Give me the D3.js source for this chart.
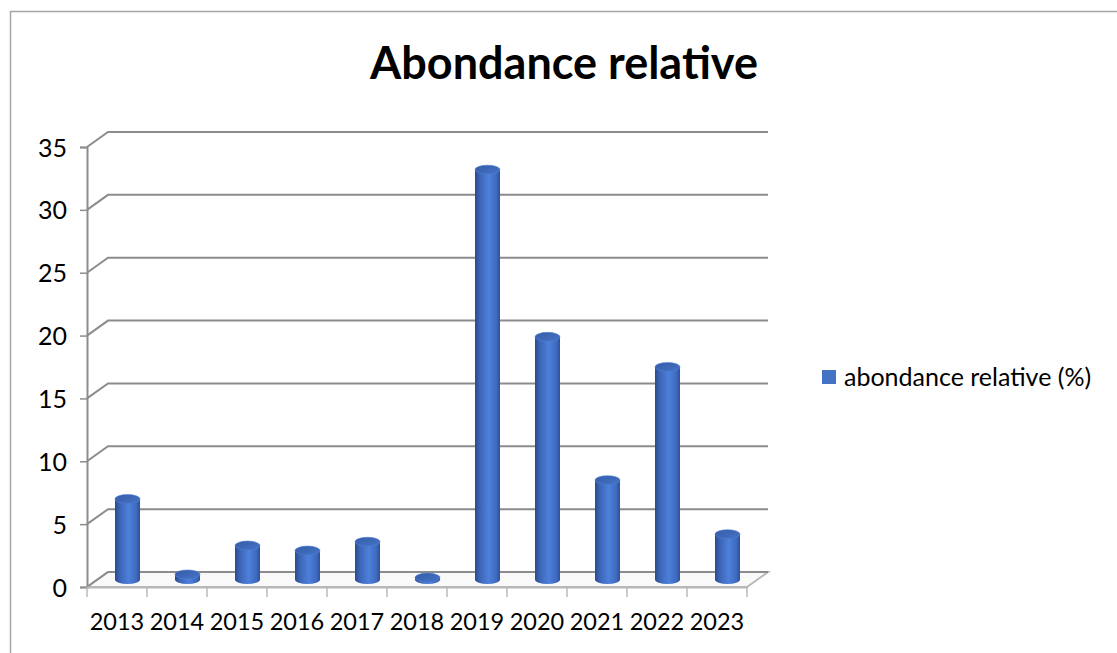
<!DOCTYPE html>
<html>
<head>
<meta charset="utf-8">
<script src="https://cdn.jsdelivr.net/npm/d3@7"></script>
<style>
  body { margin: 0; background: #fff; }
  text { font-family: Lato, "Liberation Sans", sans-serif; fill: #000; }
</style>
</head>
<body>
<div id="chart"></div>
<script>
// data
var years = ["2013","2014","2015","2016","2017","2018","2019","2020","2021","2022","2023"];
var values = [6.4, 0.4, 2.7, 2.3, 3.0, 0.15, 32.6, 19.3, 7.9, 16.9, 3.6];
var yTicks = [0, 5, 10, 15, 20, 25, 30, 35];
var seriesName = "abondance relative (%)";
var title = "Abondance relative";

var W = 1117, H = 653;
var svg = d3.select("#chart").append("svg")
    .attr("width", W)
    .attr("height", H);

// 3d depth offset of the back wall
var depth = {dx: 21, dy: -15};

var x = d3.scaleBand().domain(years).range([87, 747]).padding(0);
var y = d3.scaleLinear().domain([0, 35]).range([587, 147]);

var grid = "#8c8c8c";

// outer chart border (only top and left show in the crop)
svg.append("path")
    .attr("d", "M10.5," + H + " L10.5,11.5 L" + W + ",11.5")
    .attr("fill", "none")
    .attr("stroke", "#a6a6a6")
    .attr("stroke-width", 1.5);

// title
svg.append("text")
    .attr("x", 564)
    .attr("y", 79)
    .attr("text-anchor", "middle")
    .style("font-size", "45px")
    .style("font-weight", "bold")
    .text(title);

// floor
var x0 = x.range()[0], x1 = x.range()[1];
svg.append("path")
    .attr("d", "M" + x0 + "," + y(0) + " L" + (x0 + depth.dx) + "," + (y(0) + depth.dy) +
               " L" + (x1 + depth.dx) + "," + (y(0) + depth.dy) + " L" + x1 + "," + y(0) + "Z")
    .attr("fill", "#f9f9f9")
    .attr("stroke", "#b8b8b8")
    .attr("stroke-width", 2);

// gridlines: diagonal on the side wall then across the back wall
svg.append("g")
  .selectAll("path")
  .data(yTicks)
  .enter().append("path")
    .attr("d", function(d) {
      return "M" + x0 + "," + y(d) + " L" + (x0 + depth.dx) + "," + (y(d) + depth.dy) +
             " L" + (x1 + depth.dx) + "," + (y(d) + depth.dy);
    })
    .attr("fill", "none")
    .attr("stroke", grid)
    .attr("stroke-width", 2);

// y axis
var yAxis = svg.append("g")
    .attr("transform", "translate(" + x0 + ",0)")
    .call(d3.axisLeft(y).tickValues(yTicks).tickSize(7).tickPadding(13));
yAxis.select(".domain").attr("stroke", grid).attr("stroke-width", 2);
yAxis.selectAll(".tick line").attr("stroke", grid).attr("stroke-width", 1.5);
yAxis.selectAll(".tick text").style("font-size", "25px").attr("dy", "0.36em");

// x axis
var xAxis = svg.append("g")
    .attr("transform", "translate(0," + y(0) + ")")
    .call(d3.axisBottom(x).tickSize(0).tickPadding(26));
xAxis.select(".domain").attr("stroke", "#b8b8b8").attr("stroke-width", 2);
xAxis.selectAll(".tick text").style("font-size", "23.5px");
xAxis.append("g")
  .selectAll("line")
  .data(d3.range(years.length + 1))
  .enter().append("line")
    .attr("x1", function(i) { return x0 + i * x.bandwidth(); })
    .attr("x2", function(i) { return x0 + i * x.bandwidth(); })
    .attr("y1", 0)
    .attr("y2", 10)
    .attr("stroke", "#b8b8b8")
    .attr("stroke-width", 1.5);

// cylinder gradients
var defs = svg.append("defs");
var body = defs.append("linearGradient").attr("id", "cylBody")
    .attr("x1", "0%").attr("x2", "100%").attr("y1", "0%").attr("y2", "0%");
body.append("stop").attr("offset", "0%").attr("stop-color", "#2a4b8c");
body.append("stop").attr("offset", "18%").attr("stop-color", "#3b64b4");
body.append("stop").attr("offset", "55%").attr("stop-color", "#4d80da");
body.append("stop").attr("offset", "85%").attr("stop-color", "#3f6ac0");
body.append("stop").attr("offset", "100%").attr("stop-color", "#2d5198");
var topG = defs.append("linearGradient").attr("id", "cylTop")
    .attr("x1", "0%").attr("x2", "100%").attr("y1", "0%").attr("y2", "100%");
topG.append("stop").attr("offset", "0%").attr("stop-color", "#355ca6");
topG.append("stop").attr("offset", "100%").attr("stop-color", "#4674c8");

// cylinders stand in the middle of the depth
var rx = 12.5, ry = 4.5;
var bars = svg.append("g")
  .selectAll("g")
  .data(years.map(function(d, i) { return {year: d, value: values[i]}; }))
  .enter().append("g")
    .attr("transform", function(d) {
      return "translate(" + (x(d.year) + x.bandwidth() / 2 + depth.dx / 2) + ",0)";
    });

bars.append("path")
    .attr("d", function(d) {
      var yb = y(0) + depth.dy / 2, yt = y(d.value) + depth.dy / 2;
      return "M" + (-rx) + "," + yt + " L" + (-rx) + "," + yb +
             " A" + rx + "," + ry + " 0 0 0 " + rx + "," + yb +
             " L" + rx + "," + yt + "Z";
    })
    .attr("fill", "url(#cylBody)");

bars.append("ellipse")
    .attr("cx", 0)
    .attr("cy", function(d) { return y(d.value) + depth.dy / 2; })
    .attr("rx", rx)
    .attr("ry", ry)
    .attr("fill", "url(#cylTop)")
    .attr("stroke", "#4f7fd4")
    .attr("stroke-width", 0.6);

// legend
var legend = svg.append("g").attr("transform", "translate(822,370)");
legend.append("rect")
    .attr("width", 14)
    .attr("height", 14)
    .attr("fill", "#4472c4");
legend.append("text")
    .attr("x", 22)
    .attr("y", 7)
    .attr("dy", "0.36em")
    .style("font-size", "25px")
    .text(seriesName);
</script>
</body>
</html>
